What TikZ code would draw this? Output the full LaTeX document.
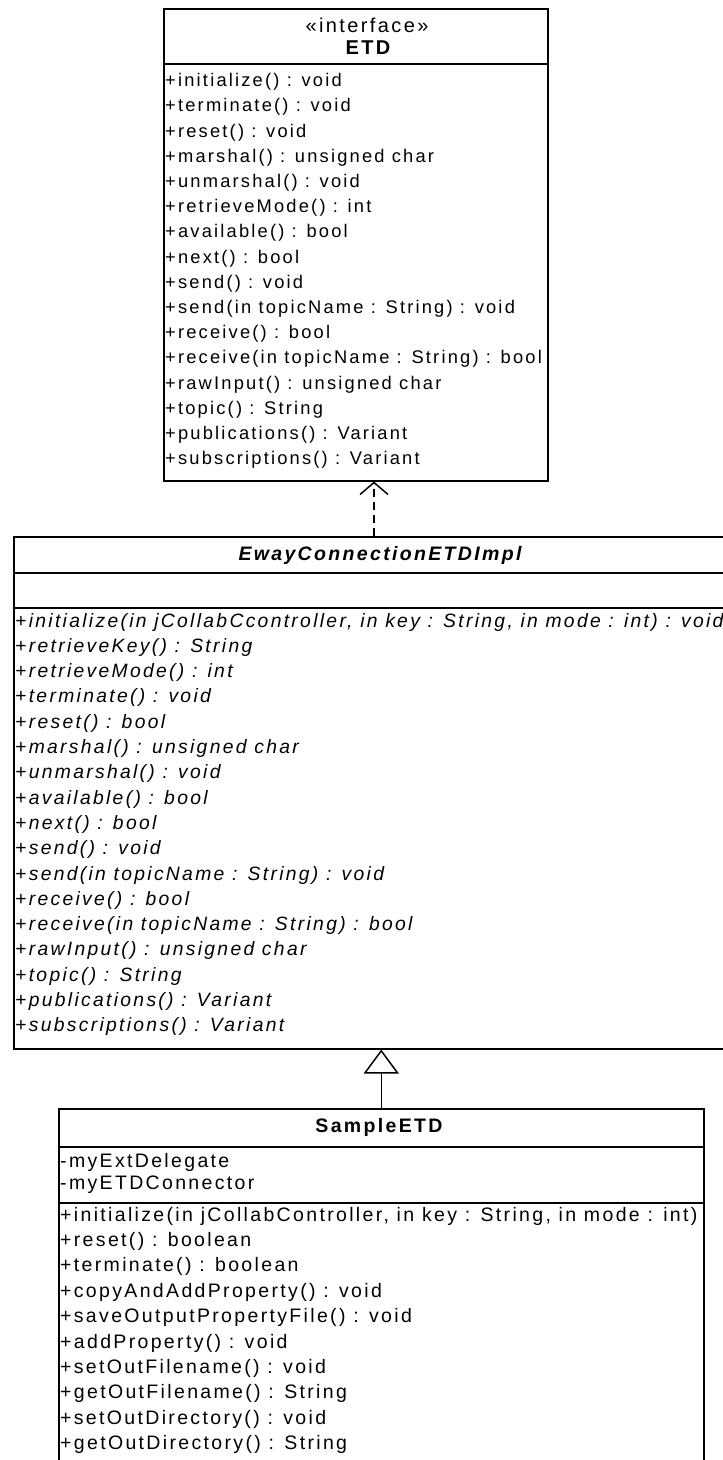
\documentclass[tikz,border=0pt]{standalone}
\usepackage{fontspec}
\setmainfont{Liberation Sans}[LetterSpace=12]
\usetikzlibrary{arrows.meta}

\begin{document}
\begin{tikzpicture}[x=1pt,y=-1pt,
  classbox/.style={draw,line width=1.5pt,anchor=north west,inner sep=0pt},
  sepline/.style={line width=1.5pt},
  etdrow/.style={anchor=west,inner sep=0pt,font=\fontsize{18.3}{22}\selectfont},
  implrow/.style={anchor=west,inner sep=0pt,font=\fontsize{19.3}{22}\selectfont\itshape},
  samplerow/.style={anchor=west,inner sep=0pt,font=\fontsize{19.5}{22}\selectfont},
  classname/.style={inner sep=0pt,font=\fontsize{19.5}{22}\selectfont\bfseries}]
\useasboundingbox (0,0) rectangle (723,1460);
\clip (0,0) rectangle (723,1460);

% interface ETD
\node[classbox,minimum width=384pt,minimum height=472pt] (etd) at (163,8) {};
\draw[sepline] (etd.west |- 0,64) -- (etd.east |- 0,64);
\node[inner sep=0pt,font=\fontsize{20}{22}\selectfont] (etdstereo) at (367,25) {«interface»};
\node[classname,font=\fontsize{20}{22}\selectfont\bfseries] (etdname) at (368,48) {ETD};
\foreach \op [count=\i] in {+initialize() : void, +terminate() : void, +reset() : void,
  +marshal() : unsigned char, +unmarshal() : void, +retrieveMode() : int,
  +available() : bool, +next() : bool, +send() : void,
  +send(in topicName : String) : void, +receive() : bool,
  +receive(in topicName : String) : bool, +rawInput() : unsigned char,
  +topic() : String, +publications() : Variant, +subscriptions() : Variant}
  \node[etdrow] (etdop\i) at (165,{82+25.2*(\i-1)}) {\op};

% abstract implementation
\node[classbox,minimum width=722pt,minimum height=512pt] (impl) at (13,536) {};
\draw[sepline] (impl.west |- 0,573) -- (impl.east |- 0,573);
\draw[sepline] (impl.west |- 0,608) -- (impl.east |- 0,608);
\node[classname,font=\fontsize{19.5}{22}\selectfont\bfseries\itshape] (implname) at (380,555) {EwayConnectionETDImpl};
\foreach \op [count=\i] in {{+initialize(in jCollabCcontroller, in key : String, in mode : int) : void},
  +retrieveKey() : String, +retrieveMode() : int, +terminate() : void,
  +reset() : bool, +marshal() : unsigned char, +unmarshal() : void,
  +available() : bool, +next() : bool, +send() : void,
  +send(in topicName : String) : void, +receive() : bool,
  +receive(in topicName : String) : bool, +rawInput() : unsigned char,
  +topic() : String, +publications() : Variant, +subscriptions() : Variant}
  \node[implrow] (implop\i) at (15,{622+25.3*(\i-1)}) {\op};

% concrete class
\node[classbox,minimum width=645pt,minimum height=380pt] (sample) at (58,1108) {};
\draw[sepline] (sample.west |- 0,1147) -- (sample.east |- 0,1147);
\draw[sepline] (sample.west |- 0,1203) -- (sample.east |- 0,1203);
\node[classname] (samplename) at (379,1127) {SampleETD};
\node[samplerow] (attr1) at (60,1162) {-myExtDelegate};
\node[samplerow] (attr2) at (60,1185) {-myETDConnector};
\foreach \op [count=\i] in {{+initialize(in jCollabController, in key : String, in mode : int)},
  +reset() : boolean, +terminate() : boolean, +copyAndAddProperty() : void,
  +saveOutputPropertyFile() : void, +addProperty() : void,
  +setOutFilename() : void, +getOutFilename() : String,
  +setOutDirectory() : void, +getOutDirectory() : String}
  \node[samplerow] (sampleop\i) at (60,{1216+25.4*(\i-1)}) {\op};

\draw[line width=1.5pt,dash pattern=on 8pt off 5pt,-{Straight Barb[length=12pt,width=28pt,line width=1.5pt]}]
  (impl.north -| 374,0) -- (etd.south -| 374,0);
\draw[line width=1.5pt,-{Triangle[open,length=24pt,width=35pt,line width=1.5pt,fill=white]}]
  (sample.north) -- (impl.south -| sample.north);
\end{tikzpicture}
\end{document}
